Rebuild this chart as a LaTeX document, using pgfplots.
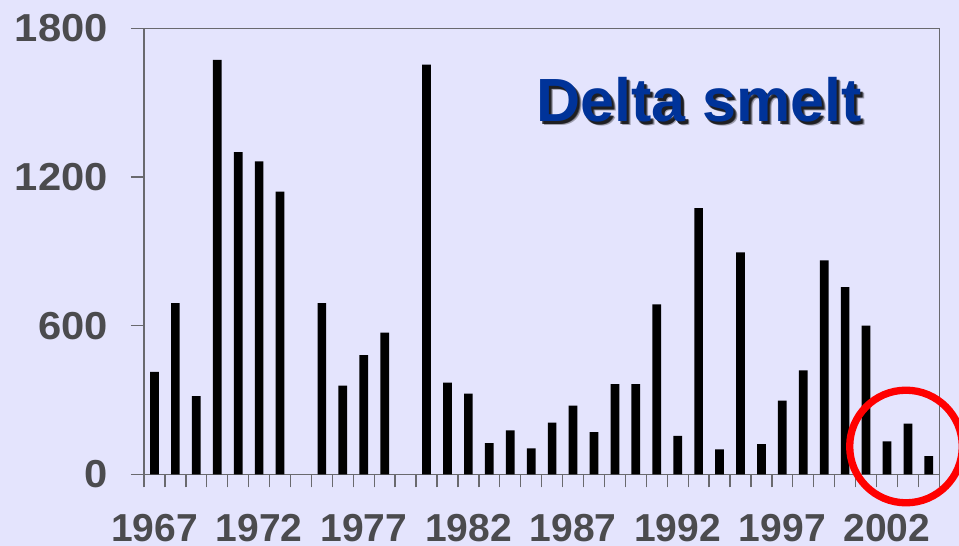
\documentclass[border=0pt]{standalone}
\usepackage{pgfplots}
\pgfplotsset{compat=1.18}
\usepackage{graphicx}
\usepackage{fontspec}
\setmainfont{Liberation Sans}
\definecolor{bgcol}{RGB}{228,228,253}
\definecolor{axgray}{RGB}{105,105,110}
\definecolor{txtgray}{RGB}{75,75,78}
\definecolor{titleblue}{RGB}{0,51,153}
\newcommand{\wide}[1]{\scalebox{1.07}[1]{#1}}
\begin{document}
\begin{tikzpicture}
\fill[bgcol] (0,0) rectangle (959pt,546pt);
\begin{axis}[
  at={(144pt,71.7pt)}, anchor=south west,
  scale only axis, width=795.3pt, height=446.1pt,
  xmin=-0.5, xmax=37.5, ymin=0, ymax=1800,
  ybar, bar width=8.7pt,
  axis background/.style={fill=none},
  axis line style={draw=axgray, line width=1.3pt},
  tick align=outside,
  xtick pos=bottom, ytick pos=left,
  ytick={0,600,1200,1800},
  yticklabels={\wide{0},\wide{600},\wide{1200},\wide{1800}},
  xtick={-0.5,0.5,...,37.5},
  xticklabels={},
  extra x ticks={0,5,10,15,20,25,30,35},
  extra x tick labels={1967,1972,1977,1982,1987,1992,1997,2002},
  extra x tick style={major tick length=0pt},
  major tick length=13pt,
  every tick/.style={draw=axgray, line width=1.3pt},
  tick label style={font=\fontsize{39}{39}\selectfont\bfseries, text=txtgray, inner sep=0pt},
  xticklabel style={anchor=north, yshift=-40pt},
  yticklabel style={anchor=east, xshift=-23pt},
  clip=false,
]
\addplot[fill=black, draw=none] coordinates {
(0,413) (1,691) (2,315) (3,1672) (4,1300) (5,1263) (6,1141)
(8,691) (9,358) (10,481) (11,572)
(13,1653) (14,370) (15,326) (16,126) (17,177) (18,105) (19,209)
(20,277) (21,170) (22,364) (23,364) (24,686) (25,155) (26,1074)
(27,101) (28,895) (29,122) (30,297) (31,419) (32,863) (33,755)
(34,600) (35,133) (36,204) (37,73)
};
\end{axis}
\begin{scope}[font=\fontsize{61}{61}\selectfont\bfseries]
\node[text=black, opacity=0.3] at (703pt,442pt) {Delta smelt};
\node[text=black, opacity=0.5] at (702pt,443pt) {Delta smelt};
\node[text=black, opacity=0.6] at (701.5pt,443.5pt) {Delta smelt};
\node[text=titleblue] at (699pt,446pt) {Delta smelt};
\end{scope}
\draw[red, line width=7.3pt] (906pt,99.5pt) circle (56.3pt);
\pgfresetboundingbox
\useasboundingbox (0,0) rectangle (959pt,546pt);
\end{tikzpicture}
\end{document}
